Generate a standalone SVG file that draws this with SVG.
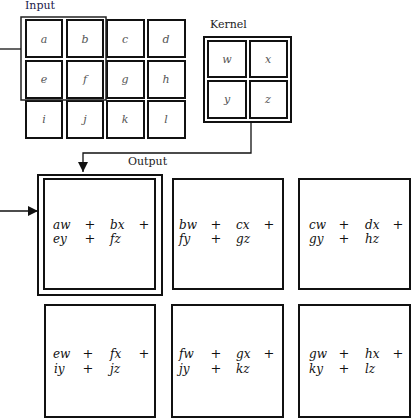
<svg xmlns="http://www.w3.org/2000/svg" width="412" height="420" viewBox="0 0 412 420">
<style>
.cell{fill:#fff;stroke:#111;stroke-width:2}
.hl{fill:none;stroke:#222;stroke-width:1.5}
.box{fill:#fff;stroke:#111;stroke-width:2}
.v{font-family:'DejaVu Serif','Liberation Serif',serif;font-style:italic;font-size:11px;fill:#555;text-anchor:middle}
.t{font-family:'DejaVu Serif','Liberation Serif',serif;font-style:italic;font-size:12px;fill:#111}
.p{font-family:'DejaVu Serif','Liberation Serif',serif;font-size:13px;fill:#111;text-anchor:middle}
.lbl{font-family:'DejaVu Serif','Liberation Serif',serif;font-size:11px;fill:#222}
.ln{fill:none;stroke:#111;stroke-width:1.3}
</style>
<defs>
<marker id="ah" viewBox="0 0 10 10" refX="10" refY="5" markerWidth="10" markerHeight="10" markerUnits="userSpaceOnUse" orient="auto">
<path d="M0,0 L10,5 L0,10 z" fill="#111"/>
</marker>
</defs>
<g id="input">
<text class="lbl" x="25" y="9" style="fill:#1a1a4a">Input</text>
<rect class="cell" x="26" y="20" width="36" height="37"/><text class="v" x="44" y="43">a</text>
<rect class="cell" x="67" y="20" width="36" height="37"/><text class="v" x="85" y="43">b</text>
<rect class="cell" x="107" y="20" width="37" height="37"/><text class="v" x="125" y="43">c</text>
<rect class="cell" x="148" y="20" width="37" height="37"/><text class="v" x="166" y="43">d</text>
<rect class="cell" x="26" y="61" width="36" height="37"/><text class="v" x="44" y="83">e</text>
<rect class="cell" x="67" y="61" width="36" height="37"/><text class="v" x="85" y="83">f</text>
<rect class="cell" x="107" y="61" width="37" height="37"/><text class="v" x="125" y="83">g</text>
<rect class="cell" x="148" y="61" width="37" height="37"/><text class="v" x="166" y="83">h</text>
<rect class="cell" x="26" y="101" width="36" height="37"/><text class="v" x="44" y="123">i</text>
<rect class="cell" x="67" y="101" width="36" height="37"/><text class="v" x="85" y="123">j</text>
<rect class="cell" x="107" y="101" width="37" height="37"/><text class="v" x="125" y="123">k</text>
<rect class="cell" x="148" y="101" width="37" height="37"/><text class="v" x="166" y="123">l</text>
<rect class="hl" x="21" y="17" width="85" height="83"/>
</g>
<g id="kernel">
<text class="lbl" x="210" y="28">Kernel</text>
<rect class="box" x="204" y="37" width="87" height="85"/>
<rect class="cell" x="208" y="41" width="38" height="36"/><text class="v" x="227" y="63">w</text>
<rect class="cell" x="250" y="41" width="37" height="36"/><text class="v" x="268" y="63">x</text>
<rect class="cell" x="208" y="81" width="38" height="37"/><text class="v" x="227" y="103">y</text>
<rect class="cell" x="250" y="81" width="37" height="37"/><text class="v" x="268" y="103">z</text>
</g>
<g id="connectors">
<path class="ln" d="M0,49 H21"/>
<path class="ln" d="M251,122 V153 H83 V172" marker-end="url(#ah)"/>
<path class="ln" d="M0,211 H38" marker-end="url(#ah)"/>
</g>
<g id="out1">
<text class="lbl" x="128" y="165">Output</text>
<rect class="box" x="38" y="175" width="124" height="120" stroke-width="1.5"/>
<rect class="box" x="44" y="179" width="111" height="110"/>
<text class="t" x="53" y="229">aw</text><text class="p" x="90" y="229">+</text><text class="t" x="110" y="229">bx</text><text class="p" x="144" y="229">+</text>
<text class="t" x="53" y="243">ey</text><text class="p" x="90" y="243">+</text><text class="t" x="110" y="243">fz</text>
</g>
<g id="out2">
<rect class="box" x="173" y="179" width="110" height="110"/>
<text class="t" x="179" y="229">bw</text><text class="p" x="216" y="229">+</text><text class="t" x="236" y="229">cx</text><text class="p" x="269" y="229">+</text>
<text class="t" x="179" y="243">fy</text><text class="p" x="216" y="243">+</text><text class="t" x="236" y="243">gz</text>
</g>
<g id="out3">
<rect class="box" x="299" y="179" width="111" height="110"/>
<text class="t" x="309" y="229">cw</text><text class="p" x="344" y="229">+</text><text class="t" x="365" y="229">dx</text><text class="p" x="398" y="229">+</text>
<text class="t" x="309" y="243">gy</text><text class="p" x="344" y="243">+</text><text class="t" x="365" y="243">hz</text>
</g>
<g id="out4">
<rect class="box" x="45" y="305" width="110" height="112"/>
<text class="t" x="53" y="358">ew</text><text class="p" x="88" y="358">+</text><text class="t" x="110" y="358">fx</text><text class="p" x="144" y="358">+</text>
<text class="t" x="54" y="373">iy</text><text class="p" x="88" y="373">+</text><text class="t" x="110" y="373">jz</text>
</g>
<g id="out5">
<rect class="box" x="172" y="305" width="111" height="112"/>
<text class="t" x="179" y="358">fw</text><text class="p" x="216" y="358">+</text><text class="t" x="236" y="358">gx</text><text class="p" x="269" y="358">+</text>
<text class="t" x="179" y="373">jy</text><text class="p" x="216" y="373">+</text><text class="t" x="236" y="373">kz</text>
</g>
<g id="out6">
<rect class="box" x="299" y="305" width="111" height="112"/>
<text class="t" x="309" y="358">gw</text><text class="p" x="344" y="358">+</text><text class="t" x="365" y="358">hx</text><text class="p" x="398" y="358">+</text>
<text class="t" x="309" y="373">ky</text><text class="p" x="344" y="373">+</text><text class="t" x="365" y="373">lz</text>
</g>
</svg>
